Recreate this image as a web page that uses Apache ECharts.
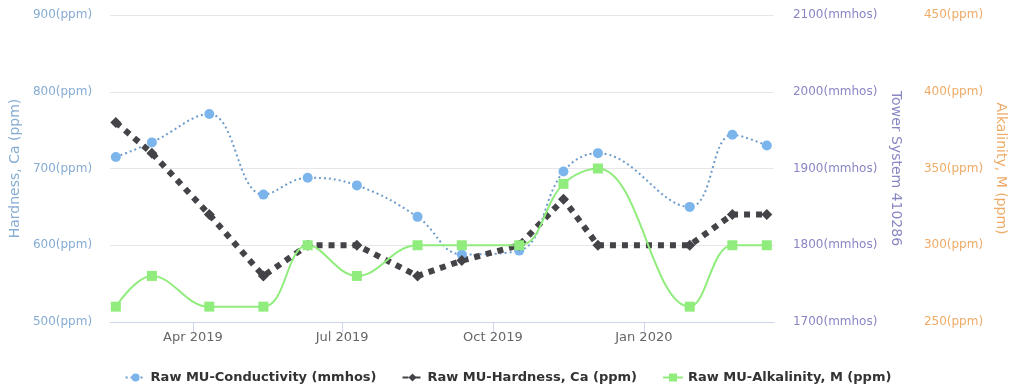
<!DOCTYPE html>
<html>
<head>
<meta charset="utf-8">
<script src="https://cdn.jsdelivr.net/npm/echarts@6/dist/echarts.min.js"></script>
<style>
html,body{margin:0;padding:0;background:#fff;}
#chart{width:1016px;height:388px;}
</style>
</head>
<body>
<div id="chart"></div>
<script>
// ---- data ----
const sampleDates = ['2019-02-13','2019-03-07','2019-04-11','2019-05-14','2019-06-10','2019-07-10','2019-08-16','2019-09-12','2019-10-17','2019-11-13','2019-12-04','2020-01-29','2020-02-24','2020-03-16'];
const conductivity = [1915,1934,1971,1866,1888,1878,1837,1788,1793,1896,1920,1850,1944,1930];
const hardnessCa   = [760,720,640,560,600,600,560,580,600,660,600,600,640,640];
const alkalinityM  = [260,280,260,260,300,280,300,300,300,340,350,260,300,300];
const xTickDates  = ['2019-04-01','2019-07-01','2019-10-01','2020-01-01'];
const xTickLabels = ['Apr 2019','Jul 2019','Oct 2019','Jan 2020'];
const xRange = ['2019-02-09T12:00:00Z','2020-03-20T08:00:00Z'];
const seriesNames = ['Raw MU-Conductivity (mmhos)','Raw MU-Hardness, Ca (ppm)','Raw MU-Alkalinity, M (ppm)'];
const axisNames = ['Hardness, Ca (ppm)','Tower System 410286','Alkalinity, M (ppm)'];

const ts = s => Date.parse(s.length === 10 ? s + 'T00:00:00Z' : s);
const pair = arr => sampleDates.map((d, i) => [ts(d), arr[i]]);
const tickTs = xTickDates.map(ts);

const FONT = 'DejaVu Sans';
const chart = echarts.init(document.getElementById('chart'), null, {renderer: 'canvas'});
chart.setOption({
  animation: false,
  backgroundColor: '#fff',
  grid: {left: 109, right: 242, top: 15, bottom: 66, containLabel: false},
  legend: {
    bottom: -1, left: 'center',
    itemWidth: 20, itemHeight: 10, itemGap: 25,
    textStyle: {fontFamily: FONT, fontSize: 13, fontWeight: 'bold', color: '#333'},
    data: seriesNames
  },
  xAxis: {
    type: 'value',
    min: ts(xRange[0]), max: ts(xRange[1]),
    axisLine: {lineStyle: {color: '#ccd6eb'}},
    axisTick: {show: true, length: 10, lineStyle: {color: '#ccd6eb'}, customValues: tickTs},
    axisLabel: {
      customValues: tickTs, margin: 9,
      fontFamily: FONT, fontSize: 13, color: '#666',
      formatter: v => { const i = tickTs.indexOf(v); return i >= 0 ? xTickLabels[i] : ''; }
    },
    splitLine: {show: false}
  },
  yAxis: [
    {
      type: 'value', position: 'left', min: 500, max: 900, interval: 100,
      name: axisNames[0], nameLocation: 'middle', nameRotate: 90, nameGap: 87,
      nameTextStyle: {fontFamily: FONT, fontSize: 14, color: '#86acd2'},
      axisLine: {show: false}, axisTick: {show: false},
      axisLabel: {margin: 18, fontFamily: FONT, fontSize: 12, color: '#86acd2', formatter: v => v + '(ppm)'},
      splitLine: {lineStyle: {color: '#e6e6e6'}}
    },
    {
      type: 'value', position: 'right', min: 1700, max: 2100, interval: 100,
      name: axisNames[1], nameLocation: 'middle', nameRotate: -90, nameGap: 115,
      nameTextStyle: {fontFamily: FONT, fontSize: 14, color: '#8986c4'},
      axisLine: {show: false}, axisTick: {show: false},
      axisLabel: {margin: 19, fontFamily: FONT, fontSize: 12, color: '#8986c4', formatter: v => v + '(mmhos)'},
      splitLine: {show: false}
    },
    {
      type: 'value', position: 'right', offset: 131, min: 250, max: 450, interval: 50,
      name: axisNames[2], nameLocation: 'middle', nameRotate: -90, nameGap: 89,
      nameTextStyle: {fontFamily: FONT, fontSize: 14, color: '#eeaa66'},
      axisLine: {show: false}, axisTick: {show: false},
      axisLabel: {margin: 19, fontFamily: FONT, fontSize: 12, color: '#eeaa66', formatter: v => v + '(ppm)'},
      splitLine: {show: false}
    }
  ],
  series: [
    {
      name: seriesNames[0], type: 'line', yAxisIndex: 1, smooth: 0.4,
      data: pair(conductivity),
      symbol: 'circle', symbolSize: 10,
      itemStyle: {color: '#7cb5ec'},
      lineStyle: {color: '#6d9ccb', width: 2, type: [2, 3]}
    },
    {
      name: seriesNames[1], type: 'line', yAxisIndex: 0,
      data: pair(hardnessCa),
      symbol: 'diamond', symbolSize: 11,
      itemStyle: {color: '#434348'},
      lineStyle: {color: '#434348', width: 6, type: [6, 6]}
    },
    {
      name: seriesNames[2], type: 'line', yAxisIndex: 2, smooth: 0.4,
      data: pair(alkalinityM),
      symbol: 'rect', symbolSize: 10,
      itemStyle: {color: '#90ed7d'},
      lineStyle: {color: '#90ed7d', width: 2}
    }
  ]
});
</script>
</body>
</html>
